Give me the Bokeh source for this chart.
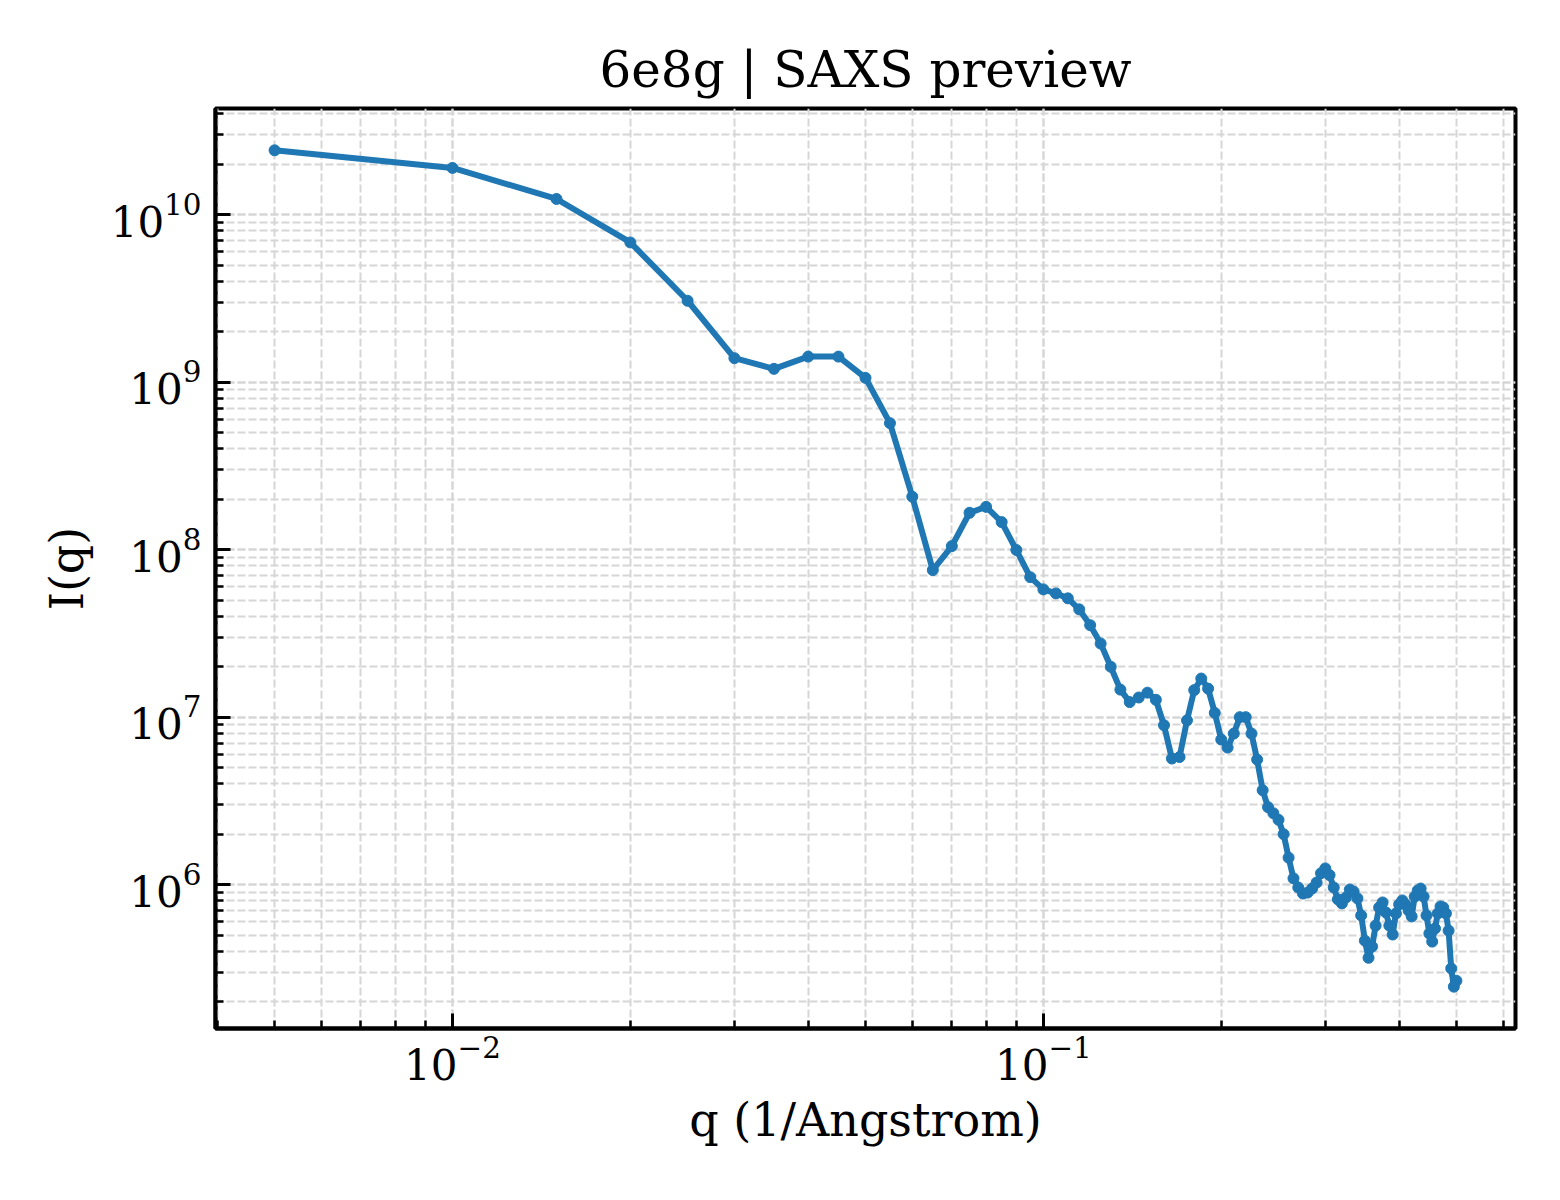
'''
SAXS preview curve for 6e8g on log-log axes (Bokeh).
'''
import numpy as np
from bokeh.plotting import figure
from bokeh.models import Range1d
from bokeh.embed import file_html
from bokeh.resources import INLINE

# scattering vector q (1/Angstrom)
q = [0.005, 0.010, 0.015, 0.020, 0.025, 0.030, 0.035, 0.040, 0.045, 0.050,
     0.055, 0.060, 0.065, 0.070, 0.075, 0.080, 0.085, 0.090, 0.095, 0.100,
     0.105, 0.110, 0.115, 0.120, 0.125, 0.130, 0.135, 0.140, 0.145, 0.150,
     0.155, 0.160, 0.165, 0.170, 0.175, 0.180, 0.185, 0.190, 0.195, 0.200,
     0.205, 0.210, 0.215, 0.220, 0.225, 0.230, 0.235, 0.240, 0.245, 0.250,
     0.255, 0.260, 0.265, 0.270, 0.275, 0.280, 0.285, 0.290, 0.295, 0.300,
     0.305, 0.310, 0.315, 0.320, 0.325, 0.330, 0.335, 0.340, 0.345, 0.350,
     0.355, 0.360, 0.365, 0.370, 0.375, 0.380, 0.385, 0.390, 0.395, 0.400,
     0.405, 0.410, 0.415, 0.420, 0.425, 0.430, 0.435, 0.440, 0.445, 0.450,
     0.455, 0.460, 0.465, 0.470, 0.475, 0.480, 0.485, 0.490, 0.495, 0.500]

# intensity I(q)
intensity = [2.42e10, 1.90e10, 1.24e10, 6.82e9, 3.06e9, 1.39e9, 1.20e9, 1.42e9, 1.42e9, 1.06e9,
             5.69e8, 2.07e8, 7.55e7, 1.05e8, 1.66e8, 1.80e8, 1.46e8, 9.95e7, 6.85e7, 5.79e7,
             5.48e7, 5.12e7, 4.40e7, 3.54e7, 2.75e7, 2.00e7, 1.46e7, 1.23e7, 1.31e7, 1.40e7,
             1.27e7, 8.95e6, 5.66e6, 5.78e6, 9.57e6, 1.45e7, 1.70e7, 1.48e7, 1.06e7, 7.35e6,
             6.58e6, 7.98e6, 1.00e7, 1.00e7, 7.98e6, 5.58e6, 3.66e6, 2.90e6, 2.67e6, 2.44e6,
             2.00e6, 1.45e6, 1.09e6, 9.62e5, 8.85e5, 8.97e5, 9.48e5, 1.03e6, 1.17e6, 1.25e6,
             1.14e6, 9.62e5, 8.17e5, 7.73e5, 8.38e5, 9.35e5, 9.10e5, 8.28e5, 6.55e5, 4.63e5,
             3.66e5, 4.27e5, 5.70e5, 7.31e5, 7.83e5, 6.82e5, 5.70e5, 5.04e5, 6.73e5, 7.62e5,
             8.05e5, 7.62e5, 7.01e5, 6.46e5, 8.49e5, 9.23e5, 9.48e5, 8.49e5, 6.55e5, 5.11e5,
             4.57e5, 5.47e5, 6.73e5, 7.41e5, 7.31e5, 6.73e5, 5.32e5, 3.16e5, 2.46e5, 2.67e5]

FONT = "DejaVu Serif"
BLUE = "#1f77b4"

# 5% margins in log space, like matplotlib's autoscale
lx = np.log10(q)
ly = np.log10(intensity)
mx = 0.05 * (lx.max() - lx.min())
my = 0.05 * (ly.max() - ly.min())

p = figure(
    width=1544, height=1184,
    x_axis_type="log", y_axis_type="log",
    x_range=Range1d(10 ** (lx.min() - mx), 10 ** (lx.max() + mx)),
    y_range=Range1d(10 ** (ly.min() - my), 10 ** (ly.max() + my)),
    title="6e8g | SAXS preview",
    output_backend="svg", toolbar_location=None,
    min_border_left=215, min_border_right=29,
    min_border_top=108, min_border_bottom=156,
)
p.background_fill_color = "white"
p.border_fill_color = "white"
p.outline_line_color = "black"
p.outline_line_width = 4

p.title.text_font = FONT
p.title.text_font_size = "50px"
p.title.text_font_style = "normal"
p.title.text_color = "black"
p.title.align = "center"
p.title.standoff = 19

for ax in (p.xaxis, p.yaxis):
    ax.axis_line_width = 4
    ax.major_tick_in = 15
    ax.major_tick_out = 0
    ax.minor_tick_in = 8
    ax.minor_tick_out = 0
    ax.major_tick_line_width = 3
    ax.minor_tick_line_width = 2.5
    ax.major_label_text_font = FONT
    ax.major_label_text_font_size = "42px"
    ax.major_label_text_color = "black"
    ax.axis_label_text_font = FONT
    ax.axis_label_text_font_size = "46px"
    ax.axis_label_text_font_style = "normal"
    ax.axis_label_text_color = "black"

p.xaxis.major_label_standoff = 7
p.yaxis.major_label_standoff = 14
p.xaxis.axis_label = "q (1/Angstrom)"
p.xaxis.axis_label_standoff = 10
p.yaxis.axis_label = "I(q)"
p.yaxis.axis_label_standoff = 14

for g in (p.xgrid, p.ygrid):
    g.grid_line_color = "#d6d6d6"
    g.grid_line_dash = "8 3"
    g.grid_line_width = 2
    g.minor_grid_line_color = "#d6d6d6"
    g.minor_grid_line_dash = "8 3"
    g.minor_grid_line_width = 2

p.line(q, intensity, line_width=6, color=BLUE)
p.scatter(q, intensity, size=11, color=BLUE)

open("out.html", "w").write(file_html(p, INLINE))
